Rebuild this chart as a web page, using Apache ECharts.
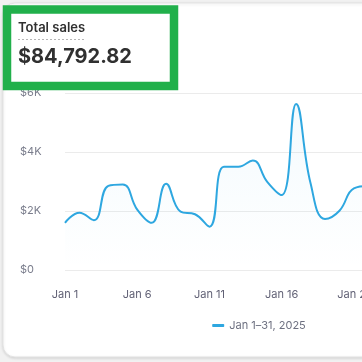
<!DOCTYPE html>
<html><head><meta charset="utf-8">
<script src="https://cdn.jsdelivr.net/npm/echarts@6/dist/echarts.min.js"></script>
<style>html,body{margin:0;padding:0;background:#f1f1f1;overflow:hidden;width:362px;height:362px}#c{width:518px;height:362px}</style>
</head><body><div id="c"></div>
<script>
const categories = Array.from({length:31},(_,i)=>'Jan '+(i+1));
const sales = [1600,1940,1690,2850,2900,2050,1600,2920,1980,1890,1470,3500,3500,3710,2990,2540,5630,2940,1730,2010,2770,2850];
const yTicks = [0,2000,4000,6000];
const legendLabel = 'Jan 1–31, 2025';
const titleText = 'Total sales';
const totalText = '$84,792.82';

const chart = echarts.init(document.getElementById('c'), null, {renderer:'canvas'});
chart.setOption({
  backgroundColor:'transparent',
  animation:false,
  textStyle:{fontFamily:'Inter'},
  graphic:[
    {type:'rect',z:0,shape:{x:3,y:3,width:512,height:354,r:12},style:{fill:'#ffffff',stroke:'#e3e3e3',lineWidth:1,shadowColor:'rgba(0,0,0,0.12)',shadowBlur:3,shadowOffsetY:1}},
    {type:'text',z:10,left:18,top:22,style:{text:titleText,font:'600 13px Inter',fill:'#303030'}},
    {type:'line',z:10,shape:{x1:18,y1:39.5,x2:85,y2:39.5},style:{stroke:'#b5b5b5',lineWidth:1,lineDash:[2,2]}},
    {type:'text',z:10,left:18,top:47,style:{text:totalText,font:'700 20px Inter',fill:'#303030'}},
    {type:'rect',z:20,shape:{x:7,y:9.5,width:167,height:76.5},style:{fill:'none',stroke:'#21b04b',lineWidth:8.5}}
  ],
  grid:{left:65,right:15,top:93,bottom:92,containLabel:false},
  legend:{bottom:26,left:'center',data:[{name:legendLabel,icon:'roundRect'}],itemWidth:12,itemHeight:3,itemGap:8,
    textStyle:{color:'#6d7080',fontSize:11,fontFamily:'Inter'}},
  xAxis:{type:'category',data:categories,boundaryGap:false,
    axisLine:{show:false},axisTick:{show:false},
    axisLabel:{interval:4,color:'#616175',fontSize:11,margin:19,fontFamily:'Inter'},
    splitLine:{show:false}},
  yAxis:{type:'value',min:0,max:6000,interval:2000,
    axisLine:{show:false},axisTick:{show:false},
    axisLabel:{align:'left',margin:45,color:'#7a7d8c',fontSize:11,fontFamily:'Inter',
      formatter:v=>v===0?'$0':'$'+(v/1000)+'K'},
    splitLine:{lineStyle:{color:'#ebebeb',width:1}}},
  series:[{name:legendLabel,type:'line',data:sales,smooth:0.45,showSymbol:false,
    lineStyle:{color:'#2ea7e0',width:2},itemStyle:{color:'#2ea7e0'},
    areaStyle:{color:new echarts.graphic.LinearGradient(0,0,0,1,[{offset:0,color:'rgba(46,167,224,0.08)'},{offset:1,color:'rgba(46,167,224,0.0)'}])}}]
});
</script></body></html>
